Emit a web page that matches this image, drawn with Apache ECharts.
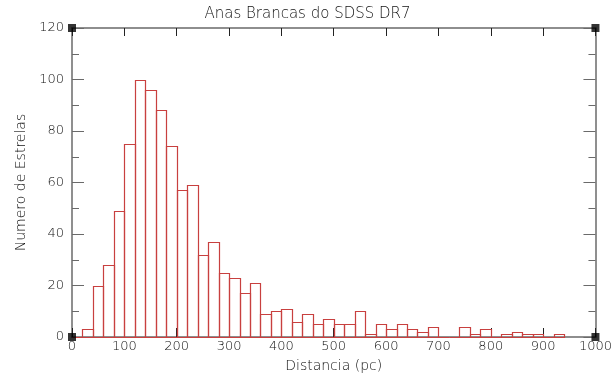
<!DOCTYPE html>
<html>
<head>
<meta charset="utf-8">
<script src="https://cdn.jsdelivr.net/npm/echarts@6/dist/echarts.min.js"></script>
<style>
  html, body { margin: 0; padding: 0; background: #fff; }
  #chart { width: 615px; height: 378px; }
</style>
</head>
<body>
<div id="chart"></div>
<script>
// Histogram of white dwarf distances, 20 pc bins from 0 to 1000 pc
const binWidth = 20;
const binStarts = [
  0, 20, 40, 60, 80, 100, 120, 140, 160, 180,
  200, 220, 240, 260, 280, 300, 320, 340, 360, 380,
  400, 420, 440, 460, 480, 500, 520, 540, 560, 580,
  600, 620, 640, 660, 680, 700, 720, 740, 760, 780,
  800, 820, 840, 860, 880, 900, 920, 940, 960, 980
];
const counts = [
  0, 3, 20, 28, 49, 75, 100, 96, 88, 74,
  57, 59, 32, 37, 25, 23, 17, 21, 9, 10,
  11, 6, 9, 5, 7, 5, 5, 10, 1, 5,
  3, 5, 3, 2, 4, 0, 0, 4, 1, 3,
  0, 1, 2, 1, 1, 0, 1, 0, 0, 0
];
// Only bins out to the last non-empty one are outlined
const lastBinEnd = 940;

const xTicks = [0, 100, 200, 300, 400, 500, 600, 700, 800, 900, 1000];
const yTicks = [0, 20, 40, 60, 80, 100, 120];

const titleText = 'Anas Brancas do SDSS DR7';
const xName = 'Distancia (pc)';
const yName = 'Numero de Estrelas';

const barColor = '#c8403f';
const axisColor = '#6a6a6a';
const textColor = '#111';
const font = 'DejaVu Sans';

const histData = binStarts
  .map((s, i) => [s, s + binWidth, counts[i]])
  .filter(d => d[1] <= lastBinEnd);

const corners = [[0, 0], [1000, 0], [0, 120], [1000, 120]];

const chart = echarts.init(document.getElementById('chart'), null, { renderer: 'canvas' });

const axisLabelStyle = { color: textColor, fontFamily: font, fontSize: 13, fontWeight: 'lighter' };

// crisp 1px outlines: snap edges to pixel centres
const snap = v => Math.round(v) + 0.5;

chart.setOption({
  animation: false,
  backgroundColor: '#fff',
  title: {
    text: titleText,
    left: 'center',
    top: 2,
    textStyle: { color: textColor, fontFamily: font, fontSize: 15, fontWeight: 'lighter' }
  },
  grid: { left: 72, right: 16, top: 28, bottom: 40, containLabel: false },
  xAxis: [
    {
      type: 'value', min: 0, max: 1000, interval: 100, position: 'bottom',
      name: xName, nameLocation: 'middle', nameGap: 22,
      nameTextStyle: { color: textColor, fontFamily: font, fontSize: 14, fontWeight: 'lighter' },
      axisLine: { show: true, onZero: false, lineStyle: { color: axisColor, width: 1.5 } },
      axisTick: { show: true, inside: true, length: 9, lineStyle: { color: '#222' } },
      axisLabel: Object.assign({ margin: 3, formatter: v => xTicks.includes(v) ? String(v) : '' }, axisLabelStyle),
      splitLine: { show: false }
    },
    {
      type: 'value', min: 0, max: 1000, interval: 100, position: 'top',
      axisLine: { show: true, onZero: false, lineStyle: { color: axisColor, width: 1.5 } },
      axisTick: { show: true, inside: true, length: 8, lineStyle: { color: '#222' } },
      axisLabel: { show: false },
      splitLine: { show: false }
    }
  ],
  yAxis: [
    {
      type: 'value', min: 0, max: 120, interval: 20, position: 'left',
      name: yName, nameLocation: 'middle', nameGap: 44, nameRotate: 90,
      nameTextStyle: { color: textColor, fontFamily: font, fontSize: 14, fontWeight: 'lighter' },
      axisLine: { show: true, onZero: false, lineStyle: { color: axisColor, width: 1.5 } },
      axisTick: { show: true, inside: true, length: 12, lineStyle: { color: axisColor } },
      minorTick: { show: true, splitNumber: 2, length: 7, lineStyle: { color: axisColor } },
      axisLabel: Object.assign({ margin: 8, formatter: v => yTicks.includes(v) ? String(v) : '' }, axisLabelStyle),
      splitLine: { show: false }
    },
    {
      type: 'value', min: 0, max: 120, interval: 20, position: 'right',
      axisLine: { show: true, onZero: false, lineStyle: { color: axisColor, width: 1.5 } },
      axisTick: { show: true, inside: true, length: 12, lineStyle: { color: axisColor } },
      minorTick: { show: true, splitNumber: 2, length: 7, lineStyle: { color: axisColor } },
      axisLabel: { show: false },
      splitLine: { show: false }
    }
  ],
  series: [
    {
      type: 'custom',
      xAxisIndex: 0,
      yAxisIndex: 0,
      data: histData,
      encode: { x: [0, 1], y: 2 },
      renderItem: function (params, api) {
        const p0 = api.coord([api.value(0), api.value(2)]);
        const p1 = api.coord([api.value(1), 0]);
        const x0 = snap(p0[0]), x1 = snap(p1[0]);
        const y0 = snap(p0[1]), y1 = snap(p1[1]);
        return {
          type: 'rect',
          shape: { x: x0, y: y0, width: x1 - x0, height: y1 - y0 },
          style: { fill: 'none', stroke: barColor, lineWidth: 1.2 }
        };
      },
      z: 3
    },
    {
      type: 'scatter',
      xAxisIndex: 0,
      yAxisIndex: 0,
      data: corners,
      symbol: 'rect',
      symbolSize: 8,
      itemStyle: { color: '#000' },
      silent: true,
      z: 5
    }
  ]
});
</script>
</body>
</html>
